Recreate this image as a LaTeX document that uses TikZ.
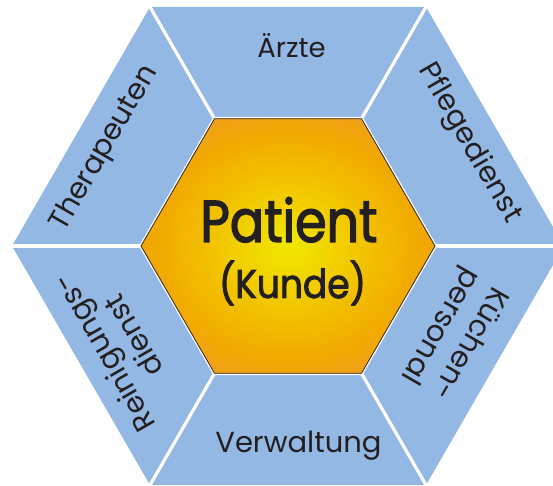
\documentclass[tikz,border=0pt]{standalone}
\usepackage{fontspec}
\setmainfont{Poppins}
\font\patbig="Poppins:embolden=2.2;extend=0.86" at 59pt
\font\patmid="Poppins:embolden=2.2;extend=0.9" at 40pt
\definecolor{segblue}{RGB}{148,184,228}
\definecolor{txtc}{RGB}{35,31,32}
\definecolor{pyel}{RGB}{240,232,0}
\definecolor{pyel2}{RGB}{242,206,0}
\definecolor{pgold}{RGB}{242,170,0}
\definecolor{porgA}{RGB}{241,155,40}
\definecolor{porgB}{RGB}{238,136,34}
\definecolor{hexline}{RGB}{45,35,30}
\pgfdeclareradialshading{patshade}{\pgfpoint{0bp}{0bp}}{color(0bp)=(pyel); color(9bp)=(pyel2); color(22bp)=(pgold); color(31bp)=(porgA); color(50bp)=(porgB)}
\tikzset{
  seg/.style={fill=segblue},
  sepline/.style={draw=white, line width=3.2pt},
  lbl/.style={font=\fontsize{29}{34}\selectfont, text=txtc, inner sep=0pt},
  bigt/.style={font=\patbig, text=txtc, inner sep=0pt},
  midt/.style={font=\patmid, text=txtc, inner sep=0pt}
}
\begin{document}
\begin{tikzpicture}[x=1pt,y=1pt]
\useasboundingbox (-288,-240) rectangle (265,246);
\clip (-288,-240) rectangle (265,246);
\foreach \k in {0,...,5} {
  \coordinate (i\k) at (60*\k:147);
  \coordinate (o\k) at (60*\k:276);
  \coordinate (e\k) at (60*\k:285);
}
\foreach \k [evaluate=\k as \n using {int(mod(\k+1,6))}] in {0,...,5} {
  \fill[seg] (i\k) -- (o\k) -- (o\n) -- (i\n) -- cycle;
}
\foreach \k in {0,...,5} {
  \draw[sepline] (i\k) -- (e\k);
}
\draw[white, line width=3.5pt, line join=miter] (i0) -- (i1) -- (i2) -- (i3) -- (i4) -- (i5) -- cycle;
\shade[shading=patshade] (i0) -- (i1) -- (i2) -- (i3) -- (i4) -- (i5) -- cycle;
\draw[hexline, line width=0.8pt, line join=miter] (i0) -- (i1) -- (i2) -- (i3) -- (i4) -- (i5) -- cycle;
\node[lbl, font=\fontsize{27.5}{33}\selectfont, anchor=base] (aerzte) at (3.5,188) {Ärzte};
\node[lbl, anchor=base] (verw) at (10.5,-206) {Verwaltung};
\node[lbl, rotate=-60] (pflege) at (181,102.5) {Pflegedienst};
\node[lbl, rotate=60] (thera) at (-183,97.5) {Therapeuten};
\node[lbl, rotate=240, align=center] (kuech) at (166,-88) {Küchen-\\personal};
\node[lbl, rotate=120, align=center] (rein) at (-170,-99) {Reinigungs-\\dienst};
\node[bigt, anchor=base] (pat) at (1,4) {Patient};
\node[midt, anchor=base] (kunde) at (4.5,-52) {(Kunde)};
\end{tikzpicture}
\end{document}
